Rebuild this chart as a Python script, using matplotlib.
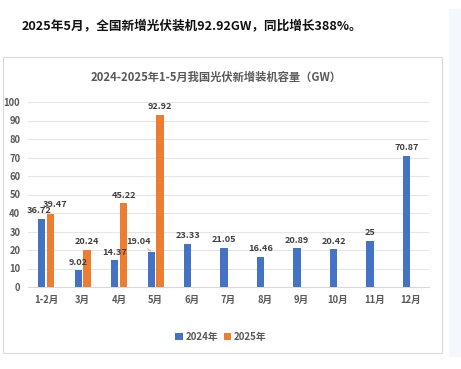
import matplotlib
matplotlib.use("Agg")
from matplotlib import pyplot as plt, patches
import numpy as np

plt.rcParams['font.family'] = ['Noto Sans CJK SC', 'DejaVu Sans']

months = ["1-2月", "3月", "4月", "5月", "6月", "7月", "8月", "9月", "10月", "11月", "12月"]
y2024 = [36.72, 9.02, 14.37, 19.04, 23.33, 21.05, 16.46, 20.89, 20.42, 25, 70.87]
y2025 = [39.47, 20.24, 45.22, 92.92]
labels2024 = ["36.72", "9.02", "14.37", "19.04", "23.33", "21.05", "16.46", "20.89", "20.42", "25", "70.87"]
labels2025 = ["39.47", "20.24", "45.22", "92.92"]
yticks = list(range(0, 101, 10))

blue = "#4472C4"
orange = "#ED7D31"
txt = "#595959"
W, H = 461, 369

fig = plt.figure(figsize=(W / 100, H / 100), dpi=100)

# page strip on the right and chart frame
fig.patches.append(patches.Rectangle((449 / W, 1 - 356 / H), 12 / W, 347 / H,
                                     transform=fig.transFigure, color="#f4f7fd", zorder=0))
fig.patches.append(patches.Rectangle((3 / W, 1 - 353 / H), 439 / W, 296 / H,
                                     transform=fig.transFigure, fill=False,
                                     edgecolor="#d9d9d9", lw=0.8, zorder=1))

fig.text(22 / W, 1 - 26 / H, "2025年5月，全国新增光伏装机92.92GW，同比增长388%。",
         fontsize=9.1, fontweight="bold", color="#111111", va="center", ha="left")
fig.text(216 / W, 1 - 77 / H, "2024-2025年1-5月我国光伏新增装机容量（GW）",
         fontsize=8.1, fontweight="bold", color=txt, va="center", ha="center")

ax = fig.add_axes([28 / W, 1 - 287 / H, 401 / W, 185 / H])
x = np.arange(len(months))
w = 0.2
b1 = ax.bar(x - 0.12, y2024, w, color=blue, zorder=3)
b2 = ax.bar(x[:len(y2025)] + 0.12, y2025, w, color=orange, zorder=3)

lab = dict(fontsize=6.6, fontweight="bold", color="#404040", ha="center", va="bottom")
for i, (v, s) in enumerate(zip(y2024, labels2024)):
    dx = 0
    if i == 0:
        dx = -0.08
    if i == 3:
        # label shifted left with a leader line
        ax.annotate(s, xy=(x[i] - 0.13, v + 0.3), xytext=(x[i] - 0.48, v + 3.2),
                    arrowprops=dict(arrowstyle="-", color="#a6a6a6", lw=0.6,
                                    shrinkA=0, shrinkB=0),
                    **lab)
        continue
    ax.text(x[i] - 0.12 + dx, v + 2, s, **lab)
for i, (v, s) in enumerate(zip(y2025, labels2025)):
    dx = 0.12 if i == 0 else 0
    ax.text(x[i] + 0.12 + dx, v + 2 + (0.8 if i == 0 else 0), s, **lab)

ax.set_xlim(-0.5, 10.5)
ax.set_ylim(0, 100)
ax.set_yticks(yticks)
ax.set_xticks(x)
ax.set_xticklabels(months)
ax.grid(axis="y", color="#e6e6e6", lw=0.8, zorder=0)
for sp in ["top", "right", "left"]:
    ax.spines[sp].set_visible(False)
ax.spines["bottom"].set_color("#d9d9d9")
ax.tick_params(length=0, labelsize=6.8, labelcolor=txt, pad=6)
ax.tick_params(axis="y", pad=5.5)
for t in ax.get_xticklabels() + ax.get_yticklabels():
    t.set_fontweight("bold")

fig.legend([b1, b2], ["2024年", "2025年"], loc="center", bbox_to_anchor=(221 / W, 1 - 337 / H),
           ncol=2, frameon=False, handlelength=0.75, handleheight=0.75, handletextpad=0.3,
           columnspacing=0.6, prop=dict(size=7, weight="bold"), labelcolor=txt)

fig.savefig("out.png", dpi=100)
